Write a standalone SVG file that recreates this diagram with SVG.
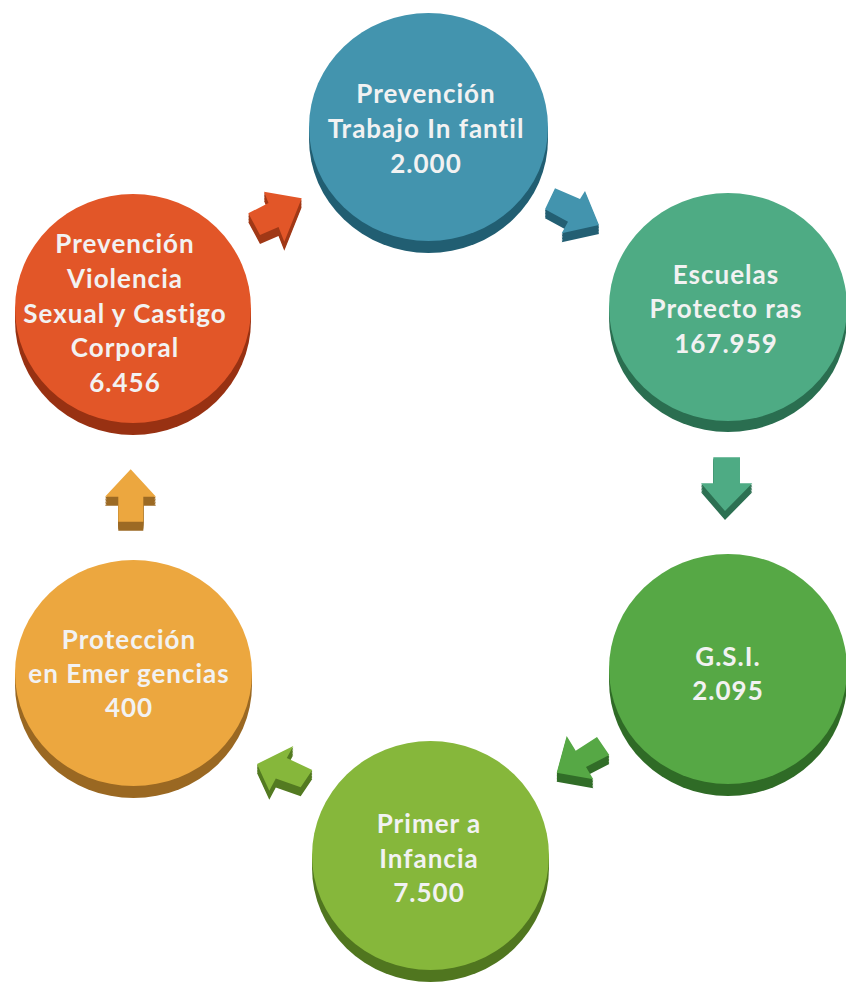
<svg xmlns="http://www.w3.org/2000/svg" xmlns:xlink="http://www.w3.org/1999/xlink" width="846" height="982" viewBox="0 0 846 982">
<style>
.label{font-family:Lato,"Open Sans","DejaVu Sans",sans-serif;font-weight:bold;font-size:26px;fill:#f2f2f2;text-anchor:middle;letter-spacing:1px}
</style>
<defs>
<polygon id="a1" points="264,191.7 301.7,198.3 284.3,241.7 278.5,227 260,235 248.3,213.3 268.5,203"/>
<polygon id="a2" points="555,188.3 580,199 585,191 599,225 561.7,233.3 568,221.7 545,209.3"/>
<polygon id="a3" points="713.3,457.3 740,457.3 740,483.3 752.3,483.3 725,511 701,483.3 713.3,483.3"/>
<polygon id="a4" points="556.7,772.7 566.7,736 575.7,750.7 597,737 609.3,755 586,767 593.3,779.3"/>
<polygon id="a5" points="257,764 293.3,746 286.8,758 312.3,770 300.7,787.3 275.8,778.6 269.3,790.7"/>
<polygon id="a6" points="130.7,469.3 156,496.7 143.3,496.7 143.3,521.7 118.3,521.7 118.3,496.7 105,496.7"/>
</defs>
<rect width="846" height="982" fill="#ffffff"/>

<g id="connectors">
  <g id="arrow-violencia-trabajo" fill="#a03816">
    <use xlink:href="#a1" y="1.5"/><use xlink:href="#a1" y="3"/><use xlink:href="#a1" y="4.5"/><use xlink:href="#a1" y="6"/><use xlink:href="#a1" y="7.5"/><use xlink:href="#a1" y="9"/>
    <use xlink:href="#a1" fill="#e25628"/>
  </g>
  <g id="arrow-trabajo-escuelas" fill="#235f73">
    <use xlink:href="#a2" y="1.5"/><use xlink:href="#a2" y="3"/><use xlink:href="#a2" y="4.5"/><use xlink:href="#a2" y="6"/><use xlink:href="#a2" y="7.5"/><use xlink:href="#a2" y="9"/>
    <use xlink:href="#a2" fill="#4394ae"/>
  </g>
  <g id="arrow-escuelas-gsi" fill="#2c7052">
    <use xlink:href="#a3" y="1.5"/><use xlink:href="#a3" y="3"/><use xlink:href="#a3" y="4.5"/><use xlink:href="#a3" y="6"/><use xlink:href="#a3" y="7.5"/><use xlink:href="#a3" y="9"/>
    <use xlink:href="#a3" fill="#4eab84"/>
  </g>
  <g id="arrow-gsi-primera" fill="#316d28">
    <use xlink:href="#a4" y="1.5"/><use xlink:href="#a4" y="3"/><use xlink:href="#a4" y="4.5"/><use xlink:href="#a4" y="6"/><use xlink:href="#a4" y="7.5"/><use xlink:href="#a4" y="9"/>
    <use xlink:href="#a4" fill="#56a845"/>
  </g>
  <g id="arrow-primera-proteccion" fill="#537a21">
    <use xlink:href="#a5" y="1.5"/><use xlink:href="#a5" y="3"/><use xlink:href="#a5" y="4.5"/><use xlink:href="#a5" y="6"/><use xlink:href="#a5" y="7.5"/><use xlink:href="#a5" y="9"/>
    <use xlink:href="#a5" fill="#86b73b"/>
  </g>
  <g id="arrow-proteccion-violencia" fill="#9c6a24">
    <use xlink:href="#a6" y="1.5"/><use xlink:href="#a6" y="3"/><use xlink:href="#a6" y="4.5"/><use xlink:href="#a6" y="6"/><use xlink:href="#a6" y="7.5"/><use xlink:href="#a6" y="9"/>
    <use xlink:href="#a6" fill="#eca73f"/>
  </g>
</g>

<g id="node-trabajo-infantil">
  <ellipse cx="428.5" cy="139" rx="119.5" ry="114" fill="#215e72"/>
  <rect x="309" y="127" width="239" height="12" fill="#215e72"/>
  <ellipse cx="428.5" cy="127" rx="119.5" ry="114" fill="#4394ae"/>
  <text class="label" x="426" y="103">Prevención</text>
  <text class="label" x="426" y="138">Trabajo In fantil</text>
  <text class="label" x="426" y="173">2.000</text>
</g>

<g id="node-escuelas">
  <ellipse cx="728" cy="318" rx="119" ry="114" fill="#2a6e50"/>
  <rect x="609" y="307" width="238" height="11" fill="#2a6e50"/>
  <ellipse cx="728" cy="307" rx="119" ry="114" fill="#4eab84"/>
  <text class="label" x="726" y="284">Escuelas</text>
  <text class="label" x="726" y="318">Protecto ras</text>
  <text class="label" x="726" y="353">167.959</text>
</g>

<g id="node-gsi">
  <ellipse cx="728" cy="681" rx="119" ry="115" fill="#2f6b26"/>
  <rect x="609" y="669" width="238" height="12" fill="#2f6b26"/>
  <ellipse cx="728" cy="669" rx="119" ry="115" fill="#56a845"/>
  <text class="label" x="728" y="666">G.S.I.</text>
  <text class="label" x="728" y="700">2.095</text>
</g>

<g id="node-primera-infancia">
  <ellipse cx="430.5" cy="867.5" rx="118.5" ry="114.5" fill="#50761f"/>
  <rect x="312" y="855.5" width="237" height="12" fill="#50761f"/>
  <ellipse cx="430.5" cy="855.5" rx="118.5" ry="114.5" fill="#86b73b"/>
  <text class="label" x="429" y="833">Primer a</text>
  <text class="label" x="429" y="868">Infancia</text>
  <text class="label" x="429" y="902">7.500</text>
</g>

<g id="node-proteccion">
  <ellipse cx="133.5" cy="685" rx="118.5" ry="113" fill="#9a6822"/>
  <rect x="15" y="673" width="237" height="12" fill="#9a6822"/>
  <ellipse cx="133.5" cy="673" rx="118.5" ry="113" fill="#eca73f"/>
  <text class="label" x="129" y="649">Protección</text>
  <text class="label" x="129" y="683">en Emer gencias</text>
  <text class="label" x="129" y="717">400</text>
</g>

<g id="node-violencia">
  <ellipse cx="133" cy="320.5" rx="118" ry="114.5" fill="#983112"/>
  <rect x="15" y="308.5" width="236" height="12" fill="#983112"/>
  <ellipse cx="133" cy="308.5" rx="118" ry="114.5" fill="#e25628"/>
  <text class="label" x="125" y="253">Prevención</text>
  <text class="label" x="125" y="288">Violencia</text>
  <text class="label" x="125" y="323">Sexual y Castigo</text>
  <text class="label" x="125" y="357">Corporal</text>
  <text class="label" x="125" y="392">6.456</text>
</g>
</svg>
